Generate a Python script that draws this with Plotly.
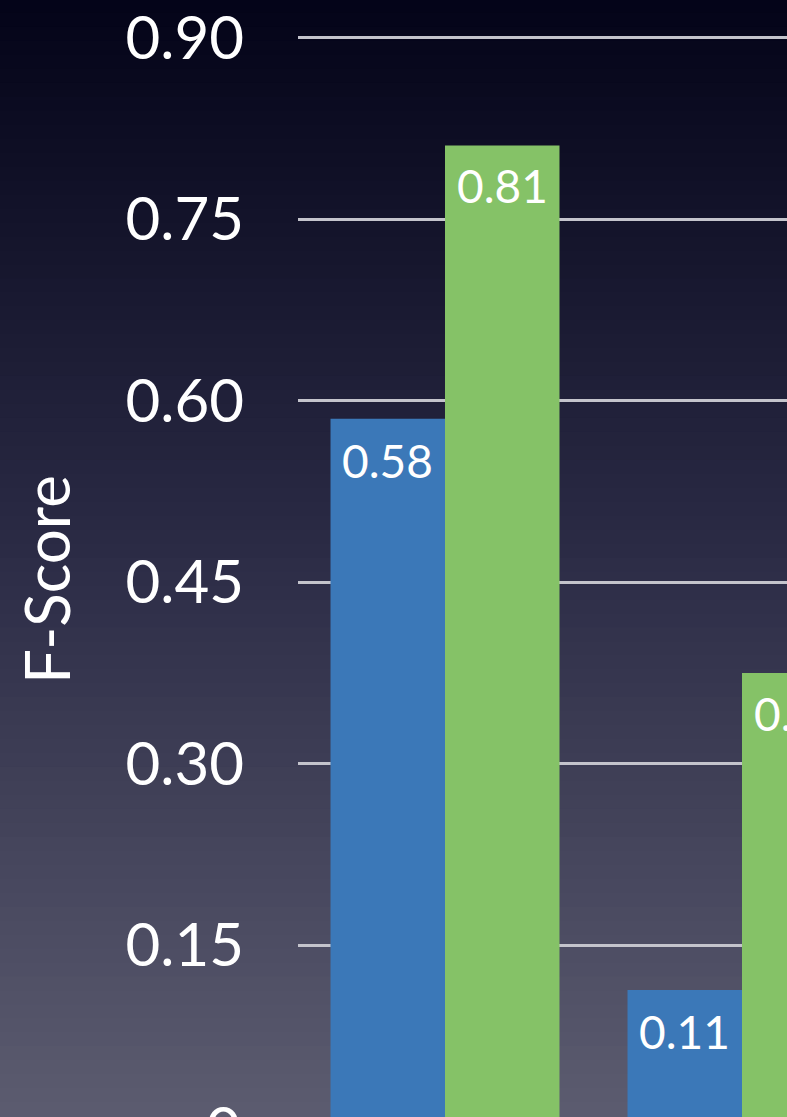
import plotly.graph_objects as go

# ---- data ----
categories = ["Set A", "Set B"]
series_names = ["Baseline", "Proposed"]
baseline_values = [0.585, 0.113]
proposed_values = [0.811, 0.375]
baseline_labels = ["0.58", "0.11"]
proposed_labels = ["0.81", "0.37"]
tick_values = [0.15, 0.30, 0.45, 0.60, 0.75, 0.90]
tick_text = ["0.15", "0.30", "0.45", "0.60", "0.75", "0.90"]

FONT = "Lato, 'Open Sans', sans-serif"
W, H = 787, 1117
L = 298

fig = go.Figure()
fig.add_trace(go.Bar(
    x=categories, y=baseline_values, name=series_names[0],
    marker=dict(color="#3b78b8", line=dict(width=0)),
    textposition="none",
))
fig.add_trace(go.Bar(
    x=categories, y=proposed_values, name=series_names[1],
    marker=dict(color="#85c267", line=dict(width=0)),
    textposition="none",
))

# background vertical gradient (styling only)
stops = [(0.0, (3, 3, 24)), (0.5, (44, 44, 70)), (1.0, (92, 92, 112))]
def col(t):
    for (t0, c0), (t1, c1) in zip(stops[:-1], stops[1:]):
        if t0 <= t <= t1:
            f = (t - t0) / (t1 - t0)
            return "rgb(%d,%d,%d)" % tuple(round(a + (b - a) * f) for a, b in zip(c0, c1))
    return "rgb(%d,%d,%d)" % stops[-1][1]

n = 80
shapes = []
x0p = -L / (W - L) - 0.01
for i in range(n):
    t = (i + 0.5) / n
    shapes.append(dict(type="rect", xref="paper", yref="paper",
                       x0=x0p, x1=1.01, y0=1 - (i + 1) / n - 0.001, y1=1 - i / n + 0.001,
                       fillcolor=col(t), line=dict(width=0), layer="below"))

px_per_unit = 1210.0
y_top_val = 0.90 + 37.7 / px_per_unit
y_bot_val = y_top_val - H / px_per_unit

cat_px = 297.0
half_bar_px = 57.2
x_min = -(445 - L) / cat_px
x_max = x_min + (W - L) / cat_px

annotations = []
for cat, v, lab in zip(categories, baseline_values, baseline_labels):
    annotations.append(dict(text=lab, x=cat, y=v, xref="x", yref="y",
                            xanchor="center", yanchor="top", xshift=-half_bar_px, yshift=-12,
                            showarrow=False, font=dict(family=FONT, size=46, color="white")))
for cat, v, lab in zip(categories, proposed_values, proposed_labels):
    annotations.append(dict(text=lab, x=cat, y=v, xref="x", yref="y",
                            xanchor="center", yanchor="top", xshift=half_bar_px, yshift=-11,
                            showarrow=False, font=dict(family=FONT, size=46, color="white")))

annotations += [
    dict(text="F-Score", textangle=-90, xref="paper", yref="paper",
         x=(46 - L) / (W - L), y=(H - 580) / H, xanchor="center", yanchor="middle",
         showarrow=False, font=dict(family=FONT, size=62, color="white")),
    dict(text="0", xref="paper", yref="paper", x=(243 - L) / (W - L),
         y=-(1126.7 - H) / H, xanchor="right", yanchor="middle", showarrow=False,
         font=dict(family=FONT, size=60, color="white")),
]

fig.update_layout(
    width=W, height=H,
    margin=dict(l=L, r=0, t=0, b=0),
    paper_bgcolor="rgb(44,44,70)",
    plot_bgcolor="rgba(0,0,0,0)",
    barmode="group", bargap=0.229, bargroupgap=0,
    showlegend=False,
    shapes=shapes,
    font=dict(family=FONT, color="white"),
    xaxis=dict(range=[x_min, x_max], showticklabels=False, showgrid=False,
               zeroline=False, showline=False, ticks=""),
    yaxis=dict(range=[y_bot_val, y_top_val], tickvals=tick_values, ticktext=tick_text,
               showgrid=True, gridcolor="#c4c4cc", gridwidth=2.5, zeroline=False,
               showline=False, ticks="", ticklabelstandoff=53, ticklabeloverflow="allow",
               tickfont=dict(family=FONT, size=60, color="white")),
    annotations=annotations,
)

fig.write_html("out.html")
